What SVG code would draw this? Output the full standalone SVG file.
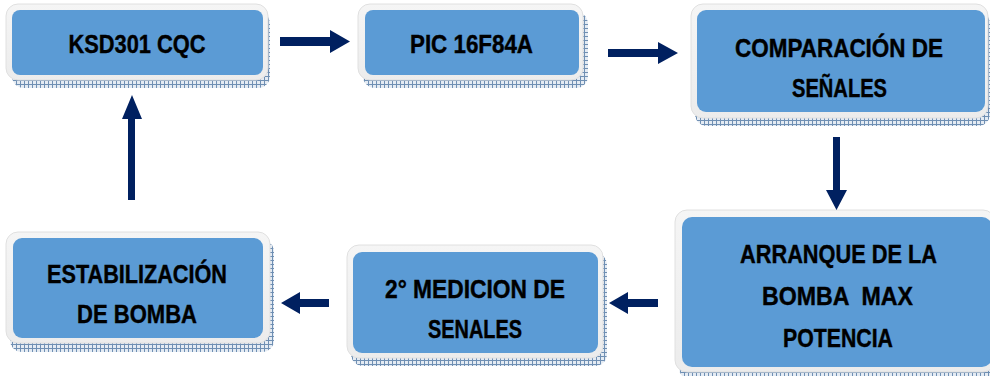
<svg xmlns="http://www.w3.org/2000/svg" width="990" height="376" viewBox="0 0 990 376">
<defs>
<pattern id="hatch" width="4" height="4" patternUnits="userSpaceOnUse">
<rect width="4" height="4" fill="#e4ebf3"/>
<path d="M0 0.5H4M0.5 0V4" stroke="#6f8fb3" stroke-width="1"/>
</pattern>
<linearGradient id="frameg" x1="0" y1="0" x2="0" y2="1">
<stop offset="0" stop-color="#f5f5f5"/>
<stop offset="1" stop-color="#ececec"/>
</linearGradient>
</defs>
<style>
.shadow{fill:url(#hatch);}
.frame{fill:url(#frameg);stroke:#e0e0e0;stroke-width:1;}
.box{fill:#5b9bd5;}
.lbl{font-family:"Liberation Sans",Arial,sans-serif;font-weight:bold;font-size:25px;fill:#000;stroke:#000;stroke-width:0.4;text-anchor:middle;}
.arrow{fill:#002060;}
</style>
<rect width="990" height="376" fill="#ffffff"/>

<g id="n1">
<rect class="shadow" x="12" y="12" width="258" height="76" rx="12"/>
<rect class="frame" x="6" y="4" width="262" height="76" rx="12"/>
<rect class="box" x="12" y="10" width="251" height="65" rx="8"/>
<text class="lbl" x="137" y="53" textLength="137" lengthAdjust="spacingAndGlyphs">KSD301 CQC</text>
</g>

<g id="n2">
<rect class="shadow" x="363" y="12" width="225" height="76" rx="12"/>
<rect class="frame" x="358" y="4" width="225" height="76" rx="12"/>
<rect class="box" x="365" y="10" width="214" height="65" rx="8"/>
<text class="lbl" x="471.5" y="53" textLength="123" lengthAdjust="spacingAndGlyphs">PIC 16F84A</text>
</g>

<g id="n3">
<rect class="shadow" x="695" y="12" width="295" height="114" rx="12"/>
<rect class="frame" x="691" y="4" width="297" height="114" rx="12"/>
<rect class="box" x="697" y="10" width="288" height="102" rx="9"/>
<text class="lbl" x="839" y="57" textLength="208" lengthAdjust="spacingAndGlyphs">COMPARACIÓN DE</text>
<text class="lbl" x="839.5" y="97" textLength="95" lengthAdjust="spacingAndGlyphs">SEÑALES</text>
</g>

<g id="n4">
<rect class="shadow" x="679" y="218" width="320" height="162" rx="12"/>
<rect class="frame" x="675" y="210" width="320" height="162" rx="12"/>
<rect class="box" x="682" y="217" width="310" height="150" rx="10"/>
<text class="lbl" x="838.5" y="263" textLength="197" lengthAdjust="spacingAndGlyphs">ARRANQUE DE LA</text>
<text class="lbl" x="837.5" y="305" textLength="151" lengthAdjust="spacingAndGlyphs" xml:space="preserve">BOMBA  MAX</text>
<text class="lbl" x="838" y="347" textLength="110" lengthAdjust="spacingAndGlyphs">POTENCIA</text>
</g>

<g id="n5">
<rect class="shadow" x="351" y="253" width="256" height="113" rx="12"/>
<rect class="frame" x="347" y="245" width="256" height="113" rx="12"/>
<rect class="box" x="353" y="252" width="245" height="101" rx="9"/>
<text class="lbl" x="475" y="298" textLength="180" lengthAdjust="spacingAndGlyphs">2° MEDICION DE</text>
<text class="lbl" x="475" y="338" textLength="94" lengthAdjust="spacingAndGlyphs">SENALES</text>
</g>

<g id="n6">
<rect class="shadow" x="10" y="240" width="264" height="112" rx="12"/>
<rect class="frame" x="6" y="232" width="264" height="111" rx="12"/>
<rect class="box" x="13" y="238" width="250" height="100" rx="9"/>
<text class="lbl" x="137" y="283" textLength="180" lengthAdjust="spacingAndGlyphs">ESTABILIZACIÓN</text>
<text class="lbl" x="137" y="323" textLength="120" lengthAdjust="spacingAndGlyphs">DE BOMBA</text>
</g>

<g id="connectors">
<polygon class="arrow" points="280,37 330,37 330,30 350,41.5 330,53 330,46 280,46"/>
<polygon class="arrow" points="608,49 658,49 658,42 678,53 658,64 658,57 608,57"/>
<polygon class="arrow" points="833,137 840,137 840,190 847,190 836.5,210 826,190 833,190"/>
<polygon class="arrow" points="658,299 628,299 628,292 609,303 628,314 628,307 658,307"/>
<polygon class="arrow" points="329,299 300,299 300,292 281,303 300,314 300,307 329,307"/>
<polygon class="arrow" points="128,200 128,119 122,119 132,95 142,119 135,119 135,200"/>
</g>
</svg>
